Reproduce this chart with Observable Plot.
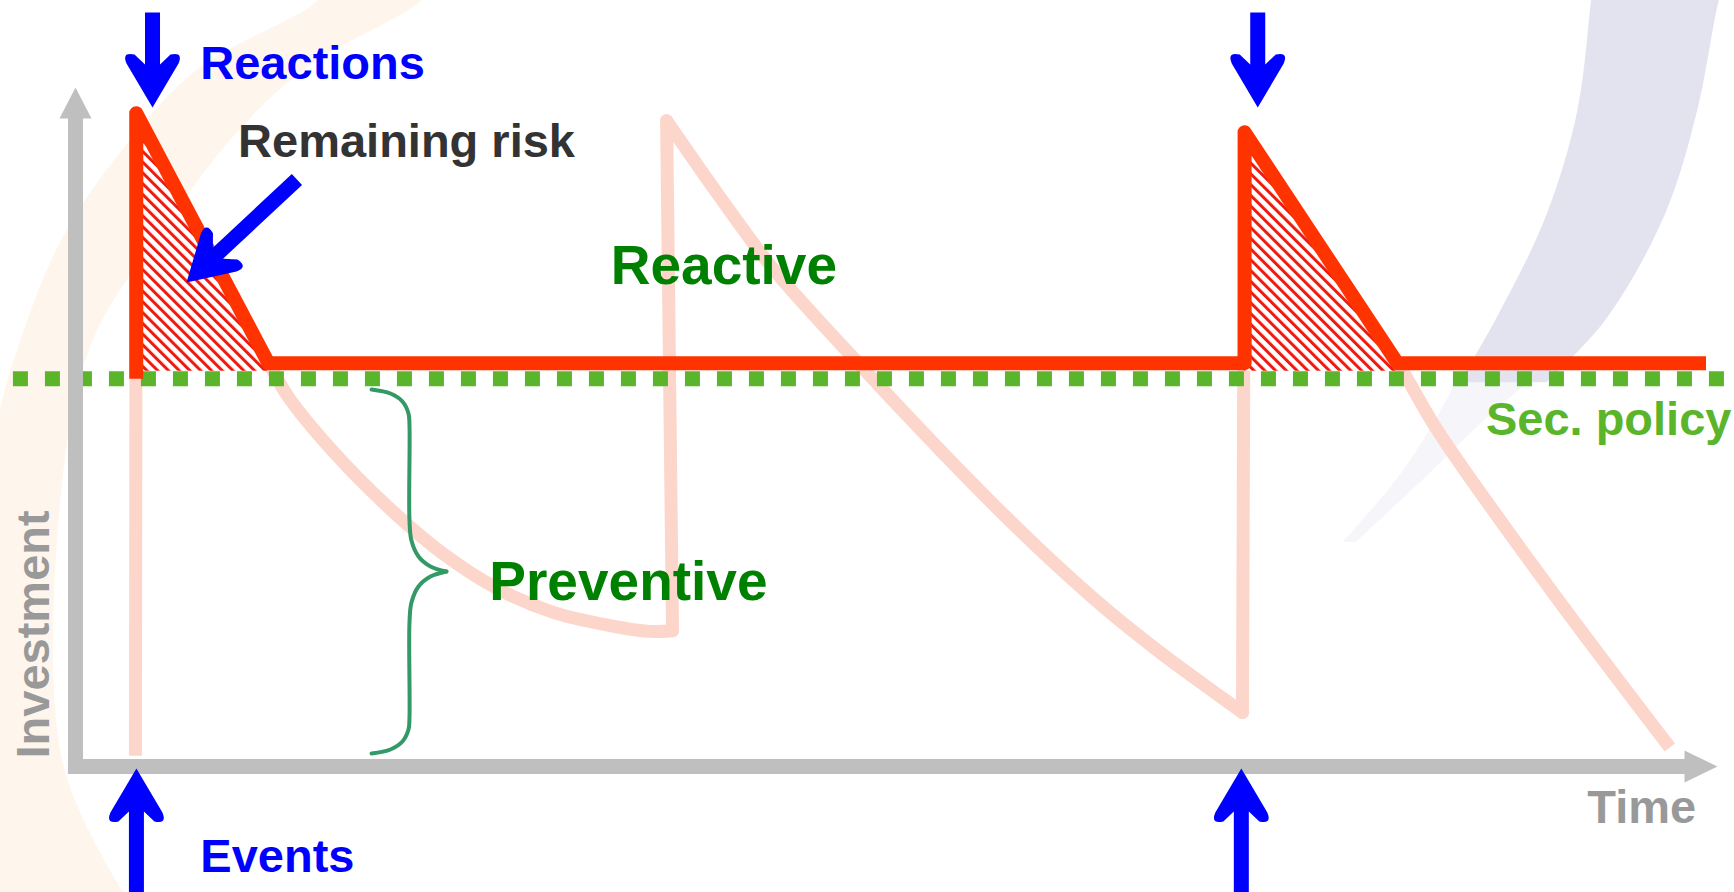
<!DOCTYPE html>
<html>
<head>
<meta charset="utf-8">
<script src="https://cdn.jsdelivr.net/npm/d3@7"></script>
<script src="https://cdn.jsdelivr.net/npm/@observablehq/plot@0.6"></script>
<style>
  html, body { margin: 0; padding: 0; background: #fff; overflow: hidden; }
</style>
</head>
<body>
<div id="chart"></div>
<script>
// ---- Data (Time 0..100, Investment 0..100) ----
const policyLevel = 57.1;

// Reactive investment (red)
const reactiveT = [3.7, 3.7, 11.75, 71.2, 71.2, 80.5, 99.3];
const reactiveV = [57.1, 96.2, 59.4, 59.4, 93.4, 59.4, 59.4];

// Preventive investment (light pink)
const preventiveT = [3.65, 3.7, 11.75, 12.97, 15.65, 19.0, 22.35, 25.76, 29.1, 32.46, 35.0, 36.36,
  36.0, 39.22, 42.57, 47.69, 52.68, 56.03, 59.44, 62.79, 66.14, 69.55, 71.07,
  71.2, 80.5, 83.0, 89.7, 97.1];
const preventiveV = [1.6, 96.2, 59.5, 54.4, 46.5, 38.3, 31.4, 26.1, 22.7, 20.8, 19.9, 20.0,
  95.1, 83.95, 73.05, 59.35, 46.54, 38.29, 30.34, 23.12, 16.64, 10.6, 7.95,
  92.9, 59.5, 49.3, 26.5, 2.8];
// index ranges of the rising / falling pieces of the preventive line
const preventivePieces = [[0, 1], [1, 11], [11, 12], [12, 22], [22, 23], [23, 27]];

// Event / reaction arrows (tip positions)
const reactionT = [4.69, 72.0];
const reactionV = [97.05, 97.05];
const eventT = [3.71, 71.0];
const eventV = [-0.29, -0.29];
const riskArrowT = [6.76];
const riskArrowV = [71.28];

// Brace around the preventive part
const braceT = [18.03, 19.18, 19.91, 20.28, 20.34, 20.34, 20.46, 20.89, 21.62, 22.59,
  22.59, 21.62, 20.89, 20.46, 20.34, 20.34, 20.28, 19.91, 19.18, 18.03];
const braceV = [55.52, 54.93, 53.76, 51.99, 50.22, 36.23, 33.28, 30.93, 29.46, 28.72,
  28.72, 27.98, 26.51, 24.15, 21.21, 7.22, 5.45, 3.68, 2.50, 1.91];
const braceHalf = ["upper","upper","upper","upper","upper","upper","upper","upper","upper","upper",
  "lower","lower","lower","lower","lower","lower","lower","lower","lower","lower"];

// Labels
const blueLabels = ["Reactions", "Events"];
const blueLabelT = [7.6, 7.6];
const blueLabelV = [101.3, -15.6];
const riskLabel = ["Remaining risk"];
const riskLabelT = [9.9];
const riskLabelV = [89.7];
const greenLabels = ["Reactive", "Preventive"];
const greenLabelT = [32.6, 25.2];
const greenLabelV = [71.1, 24.45];
const policyLabel = ["Sec. policy"];
const policyLabelT = [100.85];
const policyLabelV = [48.75];
const axisLabelsX = ["Time"];
const axisLabelXT = [98.7];
const axisLabelXV = [-8.25];
const axisLabelsY = ["Investment"];
const axisLabelYT = [-1.64];
const axisLabelYV = [1.18];

// Background swooshes (decorative logo bands)
const orangeV  = [116, 112.8, 102.9, 92.2, 78.5, 63.8, 46.5, 0.9, -19];
const orangeT1 = [15.4, 14.8, 7.6, 3.35, -0.61, -3.17, -5, -5, -5];
const orangeT2 = [21.8, 21.1, 14.1, 9.44, 5.24, 1.28, -0.55, -0.79, 3.05];
const lavV  = [116, 112.8, 96.6, 81.1, 65.7, 56.5];
const lavT1 = [92.5, 92.33, 91.5, 89.6, 86.5, 84.3];
const lavT2 = [100.6, 100.12, 98.8, 96.8, 93.2, 89.6];
const lavTailV  = [58, 50, 42, 33];
const lavTailT1 = [84.4, 82.6, 80.4, 77.2];
const lavTailT2 = [89.2, 85.4, 82.0, 78.0];

// ---- helpers ----
const zip = (obj) => {
  const keys = Object.keys(obj);
  return obj[keys[0]].map((_, i) => Object.fromEntries(keys.map(k => [k, obj[k][i]])));
};

const reactive = zip({t: reactiveT, v: reactiveV});
const pieces = preventivePieces.flatMap(([a, b], k) =>
  preventiveT.slice(a, b + 1).map((t, i) => ({t, v: preventiveV[a + i], piece: k})));
const lastPiece = preventivePieces.length - 1;
const outerPieces = pieces.filter(d => d.piece === 0 || d.piece === lastPiece);
const innerPieces = pieces.filter(d => d.piece !== 0 && d.piece !== lastPiece);
const brace = zip({t: braceT, v: braceV, half: braceHalf});
// remaining-risk triangles: peak and corner of each reactive spike
const risk = [
  {t: reactiveT[1], top: reactiveV[1], s: 1}, {t: reactiveT[2], top: reactiveV[2], s: 1},
  {t: reactiveT[4], top: reactiveV[4], s: 2}, {t: reactiveT[5], top: reactiveV[5], s: 2}
];

const font = "Liberation Sans, Arial, Helvetica, sans-serif";

const blueArrowShape = {
  draw(c, l) {
    const y = d => d - l; // d: distance from the tip
    c.moveTo(0, y(0));
    c.lineTo(26, y(44));
    c.quadraticCurveTo(31, y(56), 18, y(53));
    c.lineTo(7.5, y(43));
    c.lineTo(7.5, 0);
    c.lineTo(-7.5, 0);
    c.lineTo(-7.5, y(43));
    c.lineTo(-18, y(53));
    c.quadraticCurveTo(-31, y(56), -26, y(44));
    c.closePath();
  }
};
const axisHeadShape = {
  draw(c, l) {
    c.moveTo(0, -l);
    c.lineTo(16, 0);
    c.lineTo(-16, 0);
    c.closePath();
  }
};

function hatchDefs() {
  const ns = "http://www.w3.org/2000/svg";
  const defs = document.createElementNS(ns, "defs");
  const p = document.createElementNS(ns, "pattern");
  p.setAttribute("id", "risk-hatch");
  p.setAttribute("patternUnits", "userSpaceOnUse");
  p.setAttribute("width", "7.6");
  p.setAttribute("height", "20");
  p.setAttribute("patternTransform", "rotate(-45)");
  const bg = document.createElementNS(ns, "rect");
  bg.setAttribute("width", "7.6"); bg.setAttribute("height", "20"); bg.setAttribute("fill", "#ffffff");
  const st = document.createElementNS(ns, "rect");
  st.setAttribute("width", "3"); st.setAttribute("height", "20"); st.setAttribute("fill", "#ee1a10");
  p.appendChild(bg); p.appendChild(st);
  defs.appendChild(p);
  return defs;
}

const pink = "#fdd6cb";

const chart = Plot.plot({
  width: 1734,
  height: 892,
  marginLeft: 75,
  marginRight: 17,
  marginTop: 87,
  marginBottom: 126,
  x: {domain: [0, 100], axis: null},
  y: {domain: [0, 100], axis: null},
  style: {background: "white", overflow: "visible"},
  marks: [
    hatchDefs,
    // decorative background bands
    Plot.areaX(zip({v: orangeV, a: orangeT1, b: orangeT2}), {y: "v", x1: "a", x2: "b", fill: "#fef6ec", curve: "catmull-rom"}),
    Plot.areaX(zip({v: lavTailV, a: lavTailT1, b: lavTailT2}), {y: "v", x1: "a", x2: "b", fill: "#f6f6fa", curve: "catmull-rom"}),
    Plot.areaX(zip({v: lavV, a: lavT1, b: lavT2}), {y: "v", x1: "a", x2: "b", fill: "#e3e3ef", curve: "catmull-rom"}),
    // preventive investment
    Plot.line(outerPieces, {x: "t", y: "v", z: "piece", stroke: pink, strokeWidth: 13, strokeLinejoin: "round", strokeLinecap: "butt", curve: "catmull-rom"}),
    Plot.line(innerPieces, {x: "t", y: "v", z: "piece", stroke: pink, strokeWidth: 13, strokeLinejoin: "round", strokeLinecap: "round", curve: "catmull-rom"}),
    // remaining risk hatch
    Plot.areaY(risk, {x: "t", y1: policyLevel + 1.1, y2: "top", z: "s", fill: "url(#risk-hatch)"}),
    // security policy level
    Plot.ruleY([policyLevel], {x1: -3.78, x2: 100.5, stroke: "#5ab52a", strokeWidth: 15, strokeDasharray: "15,17"}),
    // reactive investment
    Plot.line(reactive, {x: "t", y: "v", stroke: "#ff3300", strokeWidth: 14, strokeLinejoin: "round", strokeLinecap: "butt"}),
    // axes
    Plot.ruleX([0], {y1: -1.18, y2: 97, stroke: "#bfbfbf", strokeWidth: 15}),
    Plot.ruleY([0], {x1: -0.43, x2: 99, stroke: "#bfbfbf", strokeWidth: 15}),
    Plot.vector([[0, 100]], {x: d => d[0], y: d => d[1], rotate: 0, length: 31, anchor: "end", shape: axisHeadShape, fill: "#bfbfbf", stroke: "none"}),
    Plot.vector([[100, 0]], {x: d => d[0], y: d => d[1], rotate: 90, length: 33, anchor: "end", shape: axisHeadShape, fill: "#bfbfbf", stroke: "none"}),
    // brace
    Plot.line(brace, {x: "t", y: "v", z: "half", stroke: "#339966", strokeWidth: 4, curve: "catmull-rom"}),
    // labels
    Plot.text(zip({t: blueLabelT, v: blueLabelV, s: blueLabels}), {x: "t", y: "v", text: "s", fill: "#0000ff", fontSize: 47, fontWeight: "bold", fontFamily: font, textAnchor: "start", lineAnchor: "bottom"}),
    Plot.text(zip({t: riskLabelT, v: riskLabelV, s: riskLabel}), {x: "t", y: "v", text: "s", fill: "#333333", fontSize: 47, fontWeight: "bold", fontFamily: font, textAnchor: "start", lineAnchor: "bottom"}),
    Plot.text(zip({t: greenLabelT, v: greenLabelV, s: greenLabels}), {x: "t", y: "v", text: "s", fill: "#008000", fontSize: 55, fontWeight: "bold", fontFamily: font, textAnchor: "start", lineAnchor: "bottom"}),
    Plot.text(zip({t: policyLabelT, v: policyLabelV, s: policyLabel}), {x: "t", y: "v", text: "s", fill: "#5ab52a", fontSize: 47, fontWeight: "bold", fontFamily: font, textAnchor: "end", lineAnchor: "bottom"}),
    Plot.text(zip({t: axisLabelXT, v: axisLabelXV, s: axisLabelsX}), {x: "t", y: "v", text: "s", fill: "#999999", fontSize: 47, fontWeight: "bold", fontFamily: font, textAnchor: "end", lineAnchor: "bottom"}),
    Plot.text(zip({t: axisLabelYT, v: axisLabelYV, s: axisLabelsY}), {x: "t", y: "v", text: "s", fill: "#999999", fontSize: 47, fontWeight: "bold", fontFamily: font, textAnchor: "start", lineAnchor: "bottom", rotate: -90}),
    // blue arrows
    Plot.vector(zip({t: reactionT, v: reactionV}), {x: "t", y: "v", rotate: 180, length: 95, anchor: "end", shape: blueArrowShape, fill: "#0000ff", stroke: "none"}),
    Plot.vector(zip({t: eventT, v: eventV}), {x: "t", y: "v", rotate: 0, length: 140, anchor: "end", shape: blueArrowShape, fill: "#0000ff", stroke: "none"}),
    Plot.vector(zip({t: riskArrowT, v: riskArrowV}), {x: "t", y: "v", rotate: 227, length: 151, anchor: "end", shape: blueArrowShape, fill: "#0000ff", stroke: "none"})
  ]
});

document.getElementById("chart").appendChild(chart);
</script>
</body>
</html>
